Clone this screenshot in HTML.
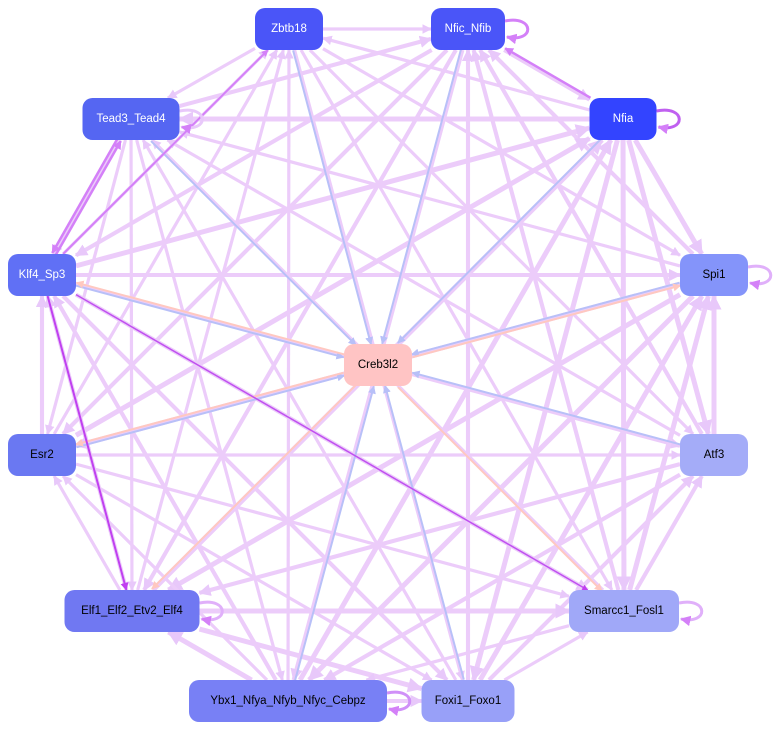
<!DOCTYPE html>
<html><head><meta charset="utf-8"><style>
body{margin:0;background:#fff;width:780px;height:730px;overflow:hidden}
svg{display:block}
text{font-family:"Liberation Sans",sans-serif;font-size:11.5px;text-anchor:middle;dominant-baseline:central}
</style></head><body>
<svg id="s" width="780" height="730" xmlns="http://www.w3.org/2000/svg">
<defs>
<marker id="mL" viewBox="0 0 10 10" refX="9" refY="5" markerWidth="3" markerHeight="3" orient="auto"><path d="M0,0L10,5L0,10z" fill="#e8c8fa"/></marker>
<marker id="mB" viewBox="0 0 10 10" refX="9" refY="5" markerWidth="4" markerHeight="4" orient="auto"><path d="M0,0L10,5L0,10z" fill="#b8c0f8"/></marker>
<marker id="mP" viewBox="0 0 10 10" refX="9" refY="5" markerWidth="4" markerHeight="4" orient="auto"><path d="M0,0L10,5L0,10z" fill="#ffc8c0"/></marker>
<marker id="mD" viewBox="0 0 10 10" refX="9" refY="5" markerWidth="4" markerHeight="4" orient="auto"><path d="M0,0L10,5L0,10z" fill="#c040f0"/></marker>
<marker id="mM" viewBox="0 0 10 10" refX="9" refY="5" markerWidth="3.5" markerHeight="3.5" orient="auto"><path d="M0,0L10,5L0,10z" fill="#d480f8"/></marker>
</defs>
<g id="e"></g><g id="n"></g>
</svg>
<script>
var N={
Zbtb18:[289,29,68,42,'#4a55f8','#fff'],
Nfic_Nfib:[468,29,74,42,'#4a55f8','#fff'],
Nfia:[623,119,67,42,'#3344ff','#fff'],
Tead3_Tead4:[131,119,97,42,'#5566f2','#fff'],
Klf4_Sp3:[42,275,68,42,'#6070f5','#fff'],
Spi1:[714,275,68,42,'#8494fa','#000'],
Creb3l2:[378,365,68,42,'#ffc4c4','#000'],
Esr2:[42,455,68,42,'#6a78f2','#000'],
Atf3:[714,455,68,42,'#a4acf8','#000'],
Elf1_Elf2_Etv2_Elf4:[132,611,135,42,'#7078f2','#000'],
Smarcc1_Fosl1:[624,611,110,42,'#a0a8f8','#000'],
Ybx1_Nfya_Nfyb_Nfyc_Cebpz:[288,701,198,42,'#7880f5','#000'],
Foxi1_Foxo1:[468,701,93,42,'#98a0f8','#000']};
var eg=document.getElementById('e'),ng=document.getElementById('n'),NS='http://www.w3.org/2000/svg';
function clip(a,b){var dx=b[0]-a[0],dy=b[1]-a[1];var tx=dx?(a[2]/2)/Math.abs(dx):1e9,ty=dy?(a[3]/2)/Math.abs(dy):1e9;var t=Math.min(tx,ty);return [a[0]+dx*t,a[1]+dy*t];}
function line(f,t,col,w,m,off){var a=N[f],b=N[t];var dx=b[0]-a[0],dy=b[1]-a[1],L=Math.hypot(dx,dy);var ox=-dy/L*off,oy=dx/L*off;
var A=[a[0]+ox,a[1]+oy,a[2],a[3]],B=[b[0]+ox,b[1]+oy,b[2],b[3]];var p=clip(A,B),q=clip(B,A);
var l=document.createElementNS(NS,'line');l.setAttribute('x1',p[0]);l.setAttribute('y1',p[1]);l.setAttribute('x2',q[0]);l.setAttribute('y2',q[1]);
l.setAttribute('stroke',col);l.setAttribute('stroke-width',w);l.setAttribute('marker-end','url(#'+m+')');eg.appendChild(l);}
var outer=Object.keys(N).filter(function(k){return k!='Creb3l2'});
for(var i=0;i<outer.length;i++)for(var j=i+1;j<outer.length;j++){var w=3.2+((i*7+j*3)%3)*0.9;if((i+j)%2)line(outer[i],outer[j],'#ecccfa',w,'mL',0);else line(outer[j],outer[i],'#ecccfa',w,'mL',0);}
['Tead3_Tead4','Zbtb18','Nfic_Nfib','Nfia','Atf3','Foxi1_Foxo1','Ybx1_Nfya_Nfyb_Nfyc_Cebpz','Spi1','Esr2','Klf4_Sp3'].forEach(function(k){line(k,'Creb3l2','#b8c0f8',2,'mB',1.5)});
['Klf4_Sp3','Esr2','Elf1_Elf2_Etv2_Elf4','Smarcc1_Fosl1','Spi1'].forEach(function(k){line('Creb3l2',k,'#ffc8c0',2,'mP',1.5)});
line('Klf4_Sp3','Elf1_Elf2_Etv2_Elf4','#c040f0',2,'mD',0);
line('Klf4_Sp3','Smarcc1_Fosl1','#c050f0',1.5,'mD',0);
line('Klf4_Sp3','Tead3_Tead4','#d480f8',2.5,'mM',2);
line('Tead3_Tead4','Klf4_Sp3','#d480f8',2.5,'mM',2);
line('Klf4_Sp3','Zbtb18','#d480f8',2,'mM',0);
line('Nfia','Nfic_Nfib','#d480f8',2.5,'mM',2);
[['Nfic_Nfib','#d480f8'],['Nfia','#c060f0'],['Spi1','#e0b0fa'],['Smarcc1_Fosl1','#e0b0fa'],['Tead3_Tead4','#e8c8fa'],['Elf1_Elf2_Etv2_Elf4','#e0b0fa'],['Ybx1_Nfya_Nfyb_Nfyc_Cebpz','#d090f8']].forEach(function(s){var a=N[s[0]];var x=a[0]+a[2]/2,y=a[1];
var p=document.createElementNS(NS,'path');p.setAttribute('d','M'+x+','+(y-8)+' C'+(x+30)+','+(y-14)+' '+(x+30)+','+(y+14)+' '+(x+2)+','+(y+8));
p.setAttribute('fill','none');p.setAttribute('stroke',s[1]);p.setAttribute('stroke-width',3);p.setAttribute('marker-end','url(#mM)');eg.appendChild(p);});
for(var k in N){var a=N[k];var r=document.createElementNS(NS,'rect');r.setAttribute('x',a[0]-a[2]/2);r.setAttribute('y',a[1]-a[3]/2);r.setAttribute('width',a[2]);r.setAttribute('height',a[3]);r.setAttribute('rx',10);r.setAttribute('fill',a[4]);ng.appendChild(r);
var t=document.createElementNS(NS,'text');t.setAttribute('x',a[0]);t.setAttribute('y',a[1]);t.setAttribute('fill',a[5]);t.textContent=k;ng.appendChild(t);}
</script>
</body></html>
